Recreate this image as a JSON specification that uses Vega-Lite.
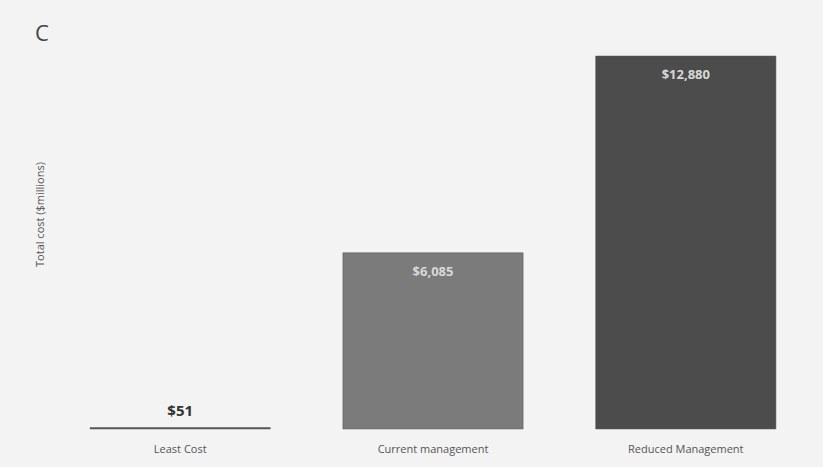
{
  "$schema": "https://vega.github.io/schema/vega-lite/v6.json",
  "autosize": {"type": "fit", "contains": "padding"},
  "padding": {"left": 34, "top": 22, "right": 16, "bottom": 13},
  "width": 823,
  "height": 467,
  "background": "#f3f3f3",
  "title": {"text": "C", "anchor": "start", "frame": "group", "dx": -24, "offset": 10, "fontSize": 22, "fontWeight": "normal", "font": "Open Sans", "color": "#444"},
  "data": {"values": [
    {"scenario": "Least Cost", "cost": 51},
    {"scenario": "Current management", "cost": 6085},
    {"scenario": "Reduced Management", "cost": 12880}
  ]},
  "config": {"view": {"stroke": null}, "font": "Open Sans"},
  "encoding": {
    "x": {"field": "scenario", "type": "nominal", "sort": null,
      "scale": {"paddingInner": 0.287, "paddingOuter": 0.123},
      "axis": {"title": null, "domain": false, "ticks": false, "labelAngle": 0, "labelPadding": 14, "labelFontSize": 11, "labelColor": "#555", "labelFont": "Open Sans"}},
    "y": {"field": "cost", "type": "quantitative",
      "scale": {"domain": [0, 12880], "nice": false},
      "axis": {"title": "Total cost ($millions)", "titleY": 158, "labels": false, "ticks": false, "domain": false, "grid": false, "titlePadding": 14, "titleFontSize": 11, "titleFontWeight": "normal", "titleColor": "#555", "titleFont": "Open Sans"}}
  },
  "layer": [
    {"mark": {"type": "bar", "stroke": "#555", "strokeWidth": 0.5},
     "encoding": {"color": {"field": "scenario", "type": "nominal", "legend": null,
       "scale": {"domain": ["Least Cost", "Current management", "Reduced Management"], "range": ["#555555", "#7b7b7b", "#4c4c4c"]}}}},
    {"transform": [{"filter": "datum.cost > 1000"}],
     "mark": {"type": "text", "baseline": "top", "dy": 13, "fontSize": 13, "fontWeight": "bold", "color": "#d8d8d8"},
     "encoding": {"text": {"field": "cost", "type": "quantitative", "format": "$,.0f"}}},
    {"transform": [{"filter": "datum.cost <= 1000"}],
     "mark": {"type": "text", "baseline": "bottom", "dy": -9, "fontSize": 15, "fontWeight": "bold", "color": "#333"},
     "encoding": {"text": {"field": "cost", "type": "quantitative", "format": "$,.0f"}}}
  ]
}
